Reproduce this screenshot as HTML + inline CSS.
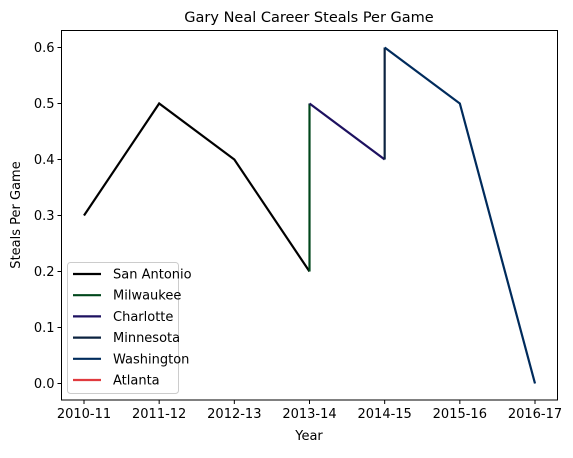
<!DOCTYPE html>
<html><head><meta charset="utf-8"><style>
body{margin:0;background:#fff;font-family:"Liberation Sans","DejaVu Sans",sans-serif;}
svg text{font-family:"DejaVu Sans","Liberation Sans",sans-serif;font-size:13px;fill:#000;}
</style></head><body>
<svg id="chart" width="573" height="453"></svg>
<script>
const categories=["2010-11","2011-12","2012-13","2013-14","2014-15","2015-16","2016-17"];
const yTicks=[0.0,0.1,0.2,0.3,0.4,0.5,0.6];
const teamNames=["San Antonio","Milwaukee","Charlotte","Minnesota","Washington","Atlanta"];
const teamColors=["#000000","#00471b","#1d1160","#0c2340","#002b5c","#e03a3e"];
const sanAntonio=[[0,0.3],[1,0.5],[2,0.4],[3,0.2]];
const milwaukee=[[3,0.2],[3,0.5]];
const charlotte=[[3,0.5],[4,0.4]];
const minnesota=[[4,0.4],[4,0.6]];
const washington=[[4,0.6],[5,0.5],[6,0.0]];
const atlanta=[[6,0.0]];
const seriesList=[sanAntonio,milwaukee,charlotte,minnesota,washington,atlanta];

const NS="http://www.w3.org/2000/svg";
const svg=document.getElementById("chart");
const L=61.5,R=557.5,T=30.5,B=400;
const xS=i=>84+i*(535-84)/6;
const yS=v=>383.5-v*560;
function el(t,a,txt){const e=document.createElementNS(NS,t);for(const k in a)e.setAttribute(k,a[k]);if(txt!==undefined)e.textContent=txt;svg.appendChild(e);return e;}

let t=el("text",{x:309,y:22,"text-anchor":"middle"},"Gary Neal Career Steals Per Game");


t.style.fontSize="14.5px";

seriesList.forEach((s,i)=>{
  const p=el("polyline",{points:s.map(d=>xS(d[0])+","+yS(d[1])).join(" "),fill:"none",stroke:teamColors[i],"stroke-width":2.2,"stroke-linejoin":"miter"});
  
  
});

const fr=el("rect",{x:L,y:T,width:R-L,height:B-T,fill:"none",stroke:"#000","stroke-width":1});



categories.forEach((c,i)=>{
  el("line",{x1:xS(i),x2:xS(i),y1:B,y2:B+4,stroke:"#000"});
  const tx=el("text",{x:xS(i),y:B+18,"text-anchor":"middle"},c);
  
  
});
yTicks.forEach(v=>{
  el("line",{x1:L-4,x2:L,y1:yS(v),y2:yS(v),stroke:"#000"});
  const tx=el("text",{x:L-7,y:yS(v)+4.5,"text-anchor":"end"},v.toFixed(1));
  
  
});
const xt=el("text",{x:309,y:440,"text-anchor":"middle"},"Year");


const yt=el("text",{x:20,y:215,"text-anchor":"middle",transform:"rotate(-90 20 215)"},"Steals Per Game");



const lg=el("rect",{x:67.5,y:262.5,width:111,height:131,rx:3,fill:"#fff","fill-opacity":0.8,stroke:"#ccc"});


teamNames.forEach((n,i)=>{
  const y=274+i*21.2;
  el("line",{x1:73,x2:101,y1:y,y2:y,stroke:teamColors[i],"stroke-width":2.2});
  const tx=el("text",{x:113,y:y+4.5},n);
  
  
});
</script>
</body></html>
